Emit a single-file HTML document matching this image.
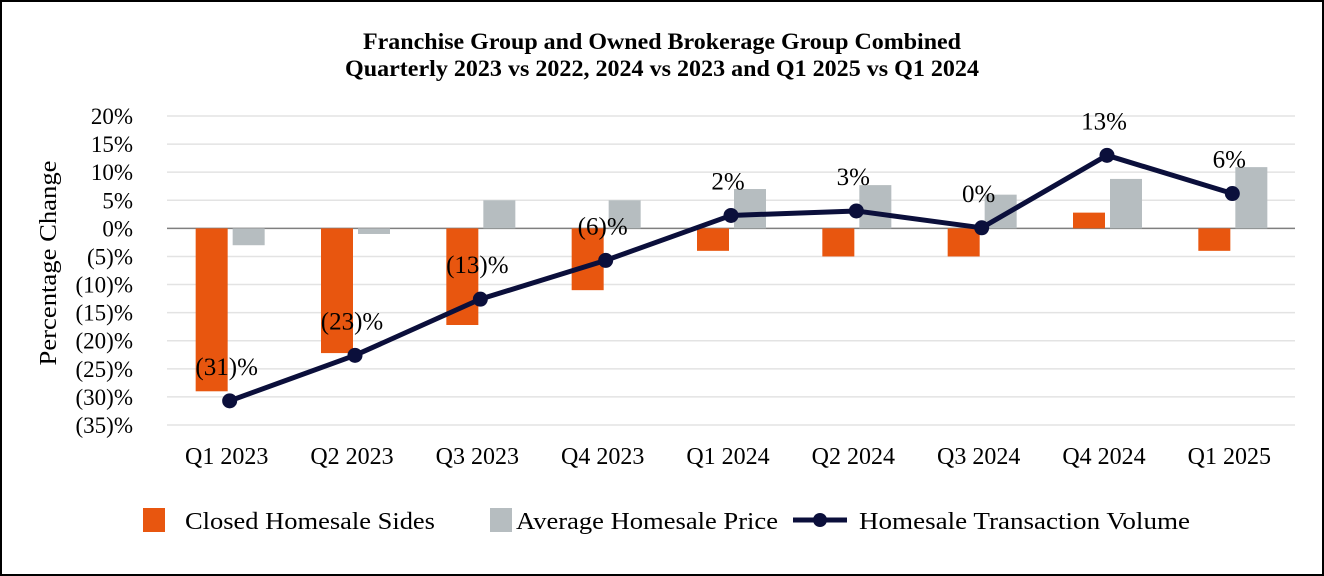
<!DOCTYPE html>
<html><head><meta charset="utf-8"><style>
html,body{margin:0;padding:0;background:#fff}
svg{display:block}
text{font-family:"Liberation Serif",serif;fill:#000}
</style></head><body>
<svg width="1324" height="576" xmlns="http://www.w3.org/2000/svg">
<rect x="1" y="1" width="1322" height="574" fill="#fff" stroke="#000" stroke-width="2"/>
<text x="662" y="49" text-anchor="middle" font-size="23.5" font-weight="bold" textLength="598" lengthAdjust="spacingAndGlyphs">Franchise Group and Owned Brokerage Group Combined</text>
<text x="662" y="76" text-anchor="middle" font-size="23.5" font-weight="bold" textLength="634" lengthAdjust="spacingAndGlyphs">Quarterly 2023 vs 2022, 2024 vs 2023 and Q1 2025 vs Q1 2024</text>
<text transform="translate(56,263) rotate(-90)" text-anchor="middle" font-size="24" textLength="205" lengthAdjust="spacingAndGlyphs">Percentage Change</text>
<g id="grid"></g><g id="yticks"></g><g id="bars"></g><g id="line"></g><g id="xlabels"></g><g id="dlabels"></g>
<g>
<rect x="143" y="508" width="22" height="24" fill="#e8560f"/>
<text x="185" y="529" font-size="24.5" textLength="250" lengthAdjust="spacingAndGlyphs">Closed Homesale Sides</text>
<rect x="490" y="508" width="22" height="24" fill="#b6bdc0"/>
<text x="516" y="529" font-size="24.5" textLength="262" lengthAdjust="spacingAndGlyphs">Average Homesale Price</text>
<line x1="793" y1="520" x2="847" y2="520" stroke="#0b0f3b" stroke-width="5"/>
<circle cx="820" cy="520" r="7" fill="#0b0f3b"/>
<text x="859" y="529" font-size="24.5" textLength="331" lengthAdjust="spacingAndGlyphs">Homesale Transaction Volume</text>
</g>
</svg>
<script>
const categories=["Q1 2023","Q2 2023","Q3 2023","Q4 2023","Q1 2024","Q2 2024","Q3 2024","Q4 2024","Q1 2025"];
const closedSides=[-29,-22.2,-17.2,-11,-4,-5,-5,2.8,-4];
const avgPrice=[-3,-1,5,5,7,7.7,6,8.8,10.9];
const volume=[-30.7,-22.6,-12.6,-5.7,2.3,3.1,0.1,13,6.2];
const volumeLabels=["(31)%","(23)%","(13)%","(6)%","2%","3%","0%","13%","6%"];
const yTicks=[20,15,10,5,0,-5,-10,-15,-20,-25,-30,-35];
const yTickLabels=["20%","15%","10%","5%","0%","(5)%","(10)%","(15)%","(20)%","(25)%","(30)%","(35)%"];
const NS="http://www.w3.org/2000/svg";
const x0=167,x1=1295,yTop=116,yBot=425,vMax=20,vMin=-35;
const band=(x1-x0)/categories.length;
const xC=i=>x0+band*(i+0.5);
const y=v=>yTop+(vMax-v)*(yBot-yTop)/(vMax-vMin);
function mk(tag,attrs,parent){const e=document.createElementNS(NS,tag);for(const k in attrs)e.setAttribute(k,attrs[k]);document.getElementById(parent).appendChild(e);return e;}
yTicks.forEach((t,i)=>{
 const g=mk('line',{x1:x0,x2:x1,y1:y(t),y2:y(t),stroke:t===0?'#7f7f7f':'#e3e3e3','stroke-width':1.5},'grid');
 
 
 const tx=mk('text',{x:133,y:y(t)+8,'text-anchor':'end','font-size':23},'yticks');
 tx.textContent=yTickLabels[i];
 
 
});
const bw=32;
categories.forEach((c,i)=>{
 const v1=closedSides[i],v2=avgPrice[i];
 const b1=mk('rect',{x:xC(i)-34,y:Math.min(y(v1),y(0)),width:bw,height:Math.abs(y(v1)-y(0)),fill:'#e8560f'},'bars');
 
 
 const b2=mk('rect',{x:xC(i)+3,y:Math.min(y(v2),y(0)),width:bw,height:Math.abs(y(v2)-y(0)),fill:'#b6bdc0'},'bars');
 
 
 const xl=mk('text',{x:xC(i)-3,y:464,'text-anchor':'middle','font-size':24},'xlabels');
 xl.textContent=c;
 
 
});
const pts=volume.map((v,i)=>xC(i)+','+y(v)).join(' ');
const pl=mk('polyline',{points:pts,fill:'none',stroke:'#0b0f3b','stroke-width':5,'stroke-linejoin':'round'},'line');


volume.forEach((v,i)=>{
 const c=mk('circle',{cx:xC(i),cy:y(v),r:7.5,fill:'#0b0f3b'},'line');
 
 
 const t=mk('text',{x:xC(i)-3,y:y(v)-26,'text-anchor':'middle','font-size':25},'dlabels');
 t.textContent=volumeLabels[i];
 
 
});
</script>
</body></html>
